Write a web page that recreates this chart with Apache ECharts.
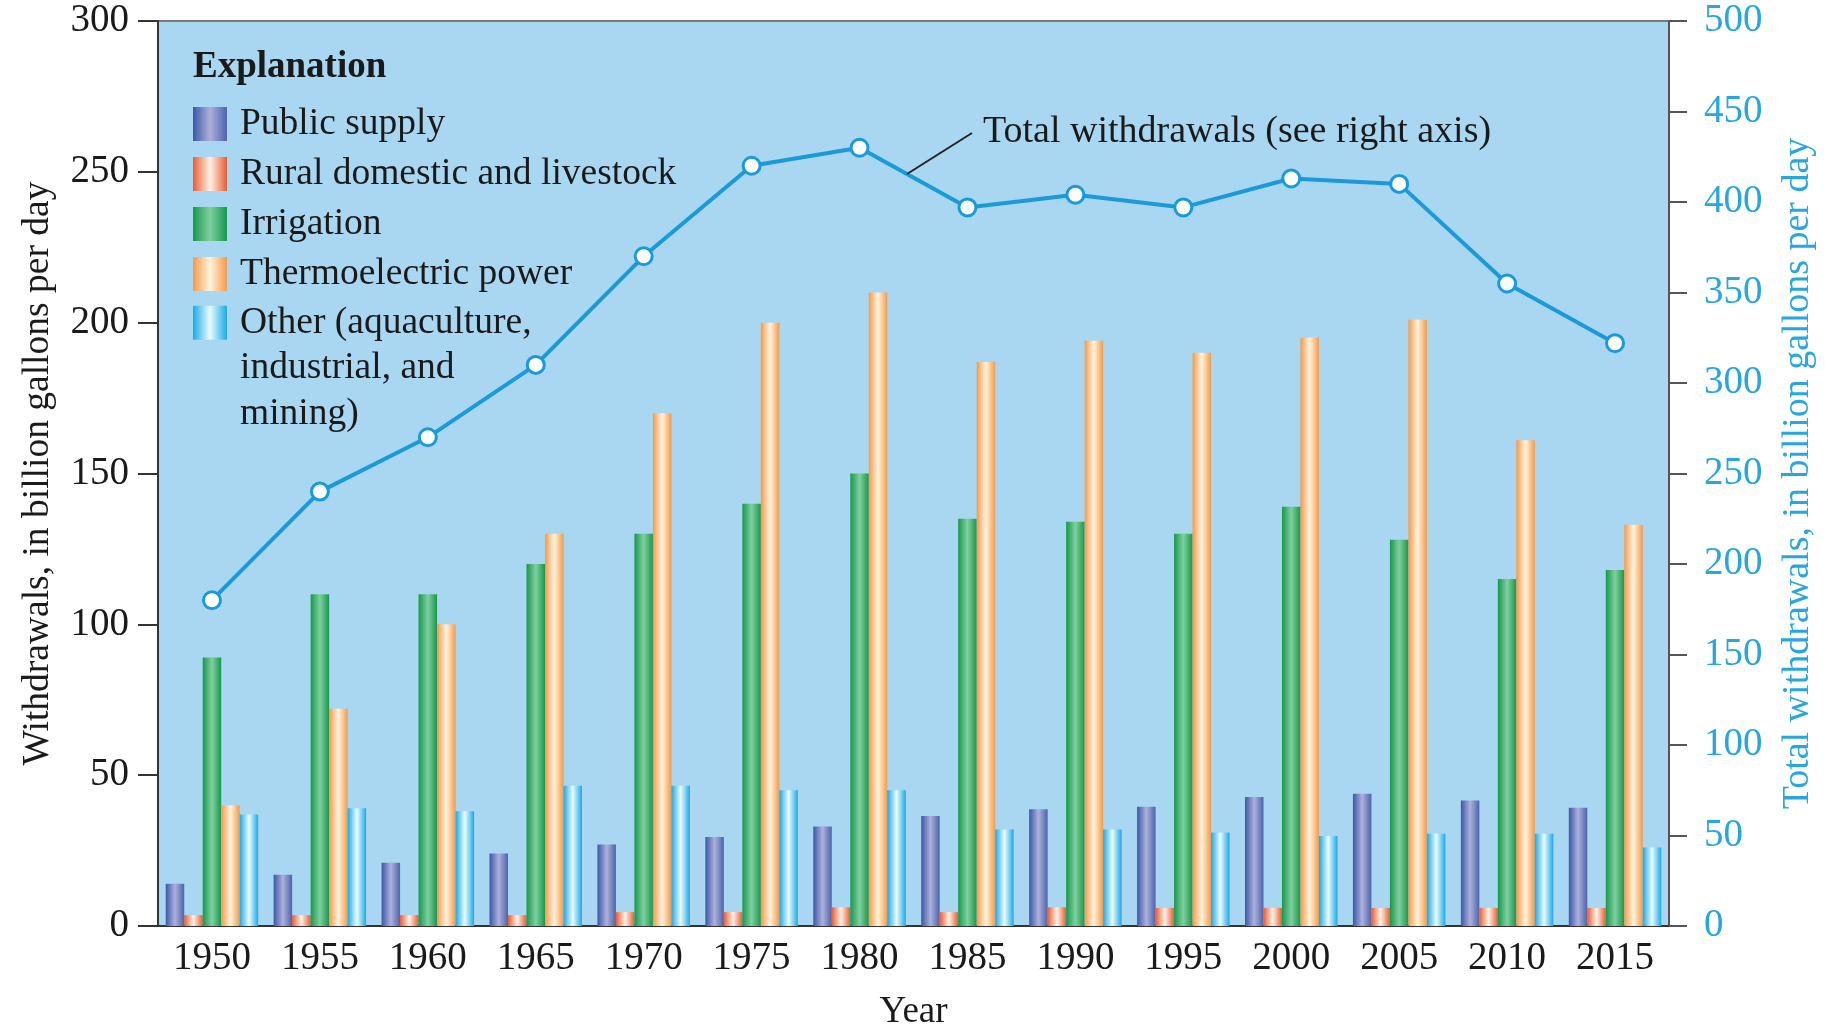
<!DOCTYPE html>
<html>
<head>
<meta charset="utf-8">
<script src="https://cdn.jsdelivr.net/npm/echarts@6/dist/echarts.min.js"></script>
<style>
html,body{margin:0;padding:0;background:#fff;}
#chart{width:1836px;height:1024px;}
</style>
</head>
<body>
<div id="chart"></div>
<script>
const years = ['1950','1955','1960','1965','1970','1975','1980','1985','1990','1995','2000','2005','2010','2015'];
const publicSupply = [14, 17, 21, 24, 27, 29.5, 33, 36.5, 38.7, 39.5, 42.8, 43.8, 41.6, 39.2];
const ruralDomestic = [3.6, 3.6, 3.6, 3.6, 4.6, 4.6, 6.2, 4.6, 6.2, 6, 6, 6, 6, 6];
const irrigation = [89, 110, 110, 120, 130, 140, 150, 135, 134, 130, 139, 128, 115, 118];
const thermoelectric = [40, 72, 100, 130, 170, 200, 210, 187, 194, 190, 195, 201, 161, 133];
const other = [37, 39, 38, 46.5, 46.5, 45, 45, 32, 32, 31, 29.8, 30.6, 30.6, 26];
const totalWithdrawals = [180, 240, 270, 310, 370, 420, 430, 397, 404, 397, 413, 410, 355, 322];
const leftTicks = [0, 300, 50];
const rightTicks = [0, 500, 50];

const FONT = 'Liberation Serif, Times New Roman, serif';
function grad(edge, center, edge2) {
  return new echarts.graphic.LinearGradient(0, 0, 1, 0, [
    {offset: 0, color: edge},
    {offset: 0.5, color: center},
    {offset: 1, color: edge2 || edge}
  ]);
}
const styles = {
  ps: grad('#3a58a6', '#aeb0dc', '#4a64ac'),
  rd: grad('#e85c34', '#fff2e6'),
  ir: grad('#17974c', '#80d0a0'),
  te: grad('#f39a48', '#fff3de'),
  ot: grad('#1aa9e6', '#eafbff')
};
const OTHER = 'Other (aquaculture, industrial, and mining)';

function barSeries(name, data, color) {
  return {
    name: name, type: 'bar', data: data, barWidth: 18.5, barGap: '0%',
    itemStyle: {color: color}, xAxisIndex: 0, yAxisIndex: 0, z: 2
  };
}

const chart = echarts.init(document.getElementById('chart'), null, {renderer: 'canvas'});
const option = {
  backgroundColor: '#ffffff',
  animation: false,
  textStyle: {fontFamily: FONT},
  grid: {
    left: 158, right: 167, top: 21, bottom: 98,
    outerBoundsMode: 'none', containLabel: false,
    show: true, backgroundColor: '#a9d7f1', borderColor: '#7a7a7a', borderWidth: 2
  },
  legend: [{
    orient: 'vertical', left: 193, top: 105, padding: 0,
    itemWidth: 34, itemHeight: 34, itemGap: 12, icon: 'rect',
    selectedMode: false,
    data: ['Public supply', 'Rural domestic and livestock', 'Irrigation', 'Thermoelectric power'],
    textStyle: {fontFamily: FONT, fontSize: 37.5, lineHeight: 34, color: '#1a1a1a', padding: [0, 0, 0, 8]}
  }, {
    orient: 'vertical', left: 193, top: 209, padding: 0,
    itemWidth: 34, itemHeight: 34, icon: 'rect',
    selectedMode: false,
    data: [OTHER],
    formatter: function () { return ' \n \nOther (aquaculture,\nindustrial, and\nmining)'; },
    textStyle: {fontFamily: FONT, fontSize: 37.5, color: '#1a1a1a', lineHeight: 45.5, padding: [0, 0, 0, 8]}
  }],
  xAxis: {
    type: 'category', data: years, boundaryGap: true,
    name: 'Year', nameLocation: 'middle', nameGap: 68,
    nameTextStyle: {fontFamily: FONT, fontSize: 37, color: '#1a1a1a'},
    axisLine: {lineStyle: {color: '#333333', width: 2}},
    axisTick: {show: false},
    axisLabel: {fontFamily: FONT, fontSize: 39, color: '#1a1a1a', margin: 13}
  },
  yAxis: [{
    type: 'value', min: leftTicks[0], max: leftTicks[1], interval: leftTicks[2],
    position: 'left',
    name: 'Withdrawals, in billion gallons per day', nameLocation: 'middle', nameRotate: 90, nameGap: 101,
    nameTextStyle: {fontFamily: FONT, fontSize: 37.5, color: '#1a1a1a'},
    axisLine: {show: true, lineStyle: {color: '#333333', width: 2}},
    axisTick: {show: true, length: 20, lineStyle: {color: '#333333', width: 2}},
    splitLine: {show: false},
    axisLabel: {fontFamily: FONT, fontSize: 39, color: '#1a1a1a', margin: 29}
  }, {
    type: 'value', min: rightTicks[0], max: rightTicks[1], interval: rightTicks[2],
    position: 'right',
    name: 'Total withdrawals, in billion gallons per day', nameLocation: 'middle', nameRotate: 90, nameGap: 110,
    nameTextStyle: {fontFamily: FONT, fontSize: 38, color: '#27a6e0'},
    axisLine: {show: true, lineStyle: {color: '#555555', width: 2}},
    axisTick: {show: true, length: 18, lineStyle: {color: '#555555', width: 2}},
    splitLine: {show: false},
    axisLabel: {fontFamily: FONT, fontSize: 39, color: '#27a6e0', margin: 35}
  }],
  graphic: [{
    type: 'text', x: 193, y: 67,
    style: {text: 'Explanation', fontFamily: FONT, fontSize: 37, fontWeight: 'bold', fill: '#1a1a1a', verticalAlign: 'middle'}
  }, {
    type: 'text', x: 983, y: 132,
    style: {text: 'Total withdrawals (see right axis)', fontFamily: FONT, fontSize: 38, fill: '#1a1a1a', verticalAlign: 'middle'}
  }, {
    type: 'line', shape: {x1: 907, y1: 174, x2: 972, y2: 133},
    style: {stroke: '#222222', lineWidth: 2}, z: 10
  }],
  series: [
    barSeries('Public supply', publicSupply, styles.ps),
    barSeries('Rural domestic and livestock', ruralDomestic, styles.rd),
    barSeries('Irrigation', irrigation, styles.ir),
    barSeries('Thermoelectric power', thermoelectric, styles.te),
    barSeries(OTHER, other, styles.ot),
    {
      name: 'Total withdrawals', type: 'line', yAxisIndex: 1, data: totalWithdrawals,
      lineStyle: {color: '#1a9ad8', width: 4},
      itemStyle: {color: '#ffffff', borderColor: '#1a9ad8', borderWidth: 3},
      symbol: 'circle', symbolSize: 17, showSymbol: true, z: 5
    }
  ]
};
chart.setOption(option);
</script>
</body>
</html>
